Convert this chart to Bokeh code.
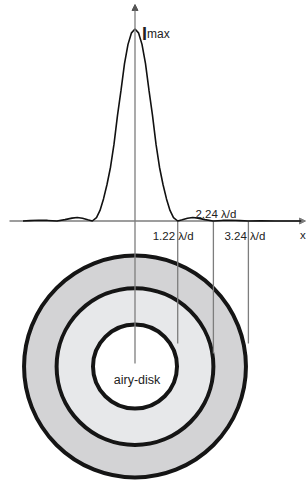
from bokeh.plotting import figure
from bokeh.models import Range1d, Arrow, NormalHead, ColumnDataSource
from bokeh.core.properties import value
from bokeh.embed import file_html
from bokeh.resources import INLINE

# ---- data (x in units of lambda/d, intensity relative to I_max) ----
curve_x = [-3.20, -3.00, -2.75, -2.50, -2.23, -2.00, -1.80, -1.65, -1.50, -1.35,
           -1.22, -1.10, -1.00, -0.90, -0.80, -0.70, -0.60, -0.50, -0.40, -0.30,
           -0.20, -0.10, 0.00, 0.10, 0.20, 0.30, 0.40, 0.50, 0.60, 0.70,
           0.80, 0.90, 1.00, 1.10, 1.22, 1.35, 1.50, 1.65, 1.80, 2.00,
           2.23, 2.50, 2.75, 3.00, 3.24, 3.60, 4.00, 4.75]
curve_i = [0.000, 0.002, 0.004, 0.003, 0.000, 0.007, 0.015, 0.018, 0.014, 0.006,
           0.000, 0.018, 0.055, 0.115, 0.190, 0.280, 0.400, 0.550, 0.680, 0.820,
           0.920, 0.980, 1.000, 0.980, 0.920, 0.820, 0.680, 0.550, 0.400, 0.280,
           0.190, 0.115, 0.055, 0.018, 0.000, 0.006, 0.014, 0.018, 0.015, 0.007,
           0.000, 0.003, 0.004, 0.002, 0.000, 0.001, 0.000, 0.000]

zeros = [1.22, 2.24, 3.24]
zero_labels = ["1.22 \u03bb/d", "2.24 \u03bb/d", "3.24 \u03bb/d"]

ring_radius = [3.17, 2.24, 1.20]
ring_fill = ["#d3d3d5", "#e7e8ea", "#ffffff"]

# ---- layout constants ----
W, H = 307, 480
PX_X = 35.0          # pixels per lambda/d
PX_Y = 192.0         # pixels per unit intensity
X0_PX = 134.5        # pixel of x = 0
Y0_PX = 220.5        # pixel (from top) of I = 0
x_lo = -X0_PX / PX_X
x_hi = (W - X0_PX) / PX_X
y_hi = Y0_PX / PX_Y
y_lo = -(H - Y0_PX) / PX_Y

DISK_Y = -0.758
AXIS_BOTTOM = -0.742
line_ends = [-0.638, -0.690, -0.638]

p = figure(width=W, height=H, output_backend="svg", toolbar_location=None,
           x_range=Range1d(x_lo, x_hi), y_range=Range1d(y_lo, y_hi),
           x_axis_type=None, y_axis_type=None, min_border=0,
           outline_line_color=None, background_fill_color="white")
p.grid.visible = False

FONT = value("Liberation Sans")
GRAY = "#7d7d7d"

# rings (outer to inner)
rings = ColumnDataSource(dict(x=[0, 0, 0], y=[DISK_Y] * 3, r=ring_radius, c=ring_fill))
p.circle(x="x", y="y", radius="r", fill_color="c", line_color="#151515",
         line_width=4, source=rings)

# horizontal axis (under the curve)
p.add_layout(Arrow(end=NormalHead(size=6, fill_color=GRAY, line_color=GRAY),
                   x_start=x_lo + 9 / PX_X, y_start=0, x_end=x_hi - 2 / PX_X, y_end=0,
                   line_color=GRAY, line_width=1.3, level="underlay"))

# guide lines from zeros down to rings
p.segment(x0=zeros, y0=[0] * 3, x1=zeros, y1=line_ends, line_color=GRAY, line_width=1.3)

# intensity curve
p.line(curve_x, curve_i, line_color="#111111", line_width=1.6)

# vertical axis
p.add_layout(Arrow(end=NormalHead(size=6, fill_color="#555555", line_color="#555555"),
                   x_start=0, y_start=AXIS_BOTTOM, x_end=0, y_end=y_hi - 4 / PX_Y,
                   line_color=GRAY, line_width=1.3))

# zero labels
lab_dx = [-25, -18, -24]
lab_dy = [14.5, -7.5, 14.5]
for zx, lab, dx, dy in zip(zeros, zero_labels, lab_dx, lab_dy):
    p.text(x=[zx], y=[0], text=[lab], x_offset=dx, y_offset=dy,
           text_font=FONT, text_font_size="11.5px", text_color="#222222",
           text_baseline="alphabetic", text_align="left")

# x axis label
p.text(x=[x_hi - 7.5 / PX_X], y=[0], text=["x"], y_offset=13.5,
       text_font=FONT, text_font_size="11.5px", text_color="#222222",
       text_baseline="alphabetic", text_align="left")

# I_max label
p.text(x=[0], y=[curve_i[22]], text=["I"], x_offset=7, y_offset=4.5,
       text_font=FONT, text_font_size="18px", text_color="#222222",
       text_font_style="bold", text_baseline="alphabetic", text_align="left")
p.text(x=[0], y=[curve_i[22]], text=["max"], x_offset=12, y_offset=4.5,
       text_font=FONT, text_font_size="12px", text_color="#222222",
       text_baseline="alphabetic", text_align="left")

# airy-disk label
p.text(x=[0], y=[DISK_Y], text=["airy-disk"], x_offset=2, y_offset=13,
       text_font=FONT, text_font_size="12.5px", text_color="#222222",
       text_baseline="alphabetic", text_align="center")

open("out.html", "w").write(file_html(p, INLINE))
